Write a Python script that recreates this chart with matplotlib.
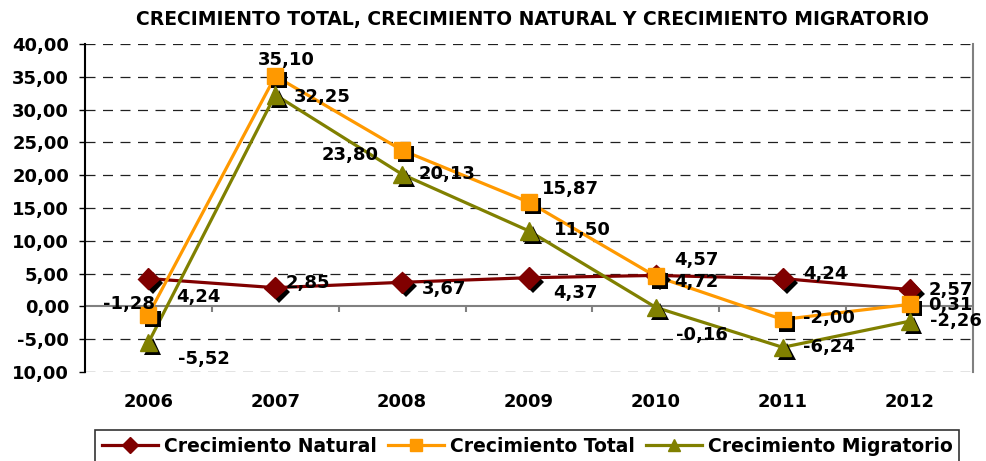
import matplotlib.pyplot as plt
import matplotlib.patheffects as pe

plt.rcParams['font.family'] = ['DejaVu Sans']
plt.rcParams['font.weight'] = 'bold'

years = ['2006', '2007', '2008', '2009', '2010', '2011', '2012']
natural = [4.24, 2.85, 3.67, 4.37, 4.72, 4.24, 2.57]
total = [-1.28, 35.10, 23.80, 15.87, 4.57, -2.00, 0.31]
migratorio = [-5.52, 32.25, 20.13, 11.50, -0.16, -6.24, -2.26]
y_ticks = [-10, -5, 0, 5, 10, 15, 20, 25, 30, 35, 40]
y_labels = ['10,00', '-5,00', '0,00', '5,00', '10,00', '15,00', '20,00',
            '25,00', '30,00', '35,00', '40,00']

# label offsets in pixels (x right, y up)
off_nat = [(50, -18), (33, 5), (42, -7), (46, -15), (41, -7), (43, 5), (41, 0)]
off_tot = [(-19, 11), (11, 16), (-52, -5), (41, 13), (41, 16), (46, 2), (41, -1)]
off_mig = [(56, -16), (47, -2), (45, 0), (53, 1), (46, -28), (46, 0), (46, 0)]

fig = plt.figure(figsize=(9.86, 4.61), dpi=100)
ax = fig.add_axes([0.0862, 0.1931, 0.9006, 0.7115])

x = list(range(len(years)))
shadow = [pe.SimplePatchShadow(offset=(3, -3), shadow_rgbFace='black', alpha=1), pe.Normal()]

series = [
    ('Crecimiento Natural', natural, '#800000', 'D', 11, off_nat),
    ('Crecimiento Total', total, '#FF9900', 's', 11.5, off_tot),
    ('Crecimiento Migratorio', migratorio, '#808000', '^', 12.5, off_mig),
]

handles = []
for name, vals, col, mk, ms, offs in series:
    ax.plot(x, vals, color=col, lw=2.3, zorder=3)
    ax.plot(x, vals, ls='none', marker=mk, ms=ms, color=col, mec=col,
            path_effects=shadow, zorder=4)
    h, = plt.plot([], [], color=col, lw=2.3, marker=mk, ms=ms * 0.72, mec=col)
    h.set_label(name)
    handles.append(h)
    for xi, v, o in zip(x, vals, offs):
        ax.annotate(('%.2f' % v).replace('.', ','), (xi, v), xytext=o,
                    textcoords='offset pixels', ha='center', va='center',
                    fontsize=13, fontweight='bold', zorder=5)

ax.set_xlim(-0.5, 6.5)
ax.set_ylim(-10, 40)
for yv in y_ticks:
    if yv != 0:
        ax.axhline(yv, color='#202020', lw=0.9, ls=(0, (8, 6)), zorder=1)
ax.axhline(0, color='#808080', lw=1.5, zorder=2)
ax.vlines([i + 0.5 for i in range(-1, 7)], -0.8, 0, color='#808080', lw=1.5, zorder=2)

ax.set_yticks(y_ticks)
ax.set_yticklabels(y_labels, fontsize=13, fontweight='bold')
ax.set_xticks(x)
ax.set_xticklabels(years, fontsize=13, fontweight='bold')
ax.tick_params(axis='x', length=0, pad=15)
ax.tick_params(axis='y', length=4.5, width=1, pad=7)

ax.spines['top'].set_visible(False)
ax.spines['bottom'].set_visible(False)
ax.spines['left'].set_color('black')
ax.spines['left'].set_linewidth(1.5)
ax.spines['right'].set_color('#808080')
ax.spines['right'].set_linewidth(1.5)

fig.text(0.54, 0.957, 'CRECIMIENTO TOTAL, CRECIMIENTO NATURAL Y CRECIMIENTO MIGRATORIO',
         ha='center', va='center', fontsize=13.5, fontweight='bold')

leg = fig.legend(handles=handles, loc='upper center', bbox_to_anchor=(0.5345, 0.0672),
                 ncol=3, frameon=True, fancybox=False, fontsize=13.5,
                 handlelength=3.0, handletextpad=0.3, columnspacing=0.6,
                 borderpad=0.35, borderaxespad=0)
leg.get_frame().set_edgecolor('black')
leg.get_frame().set_linewidth(1.2)

fig.savefig('out.png', dpi=100)
